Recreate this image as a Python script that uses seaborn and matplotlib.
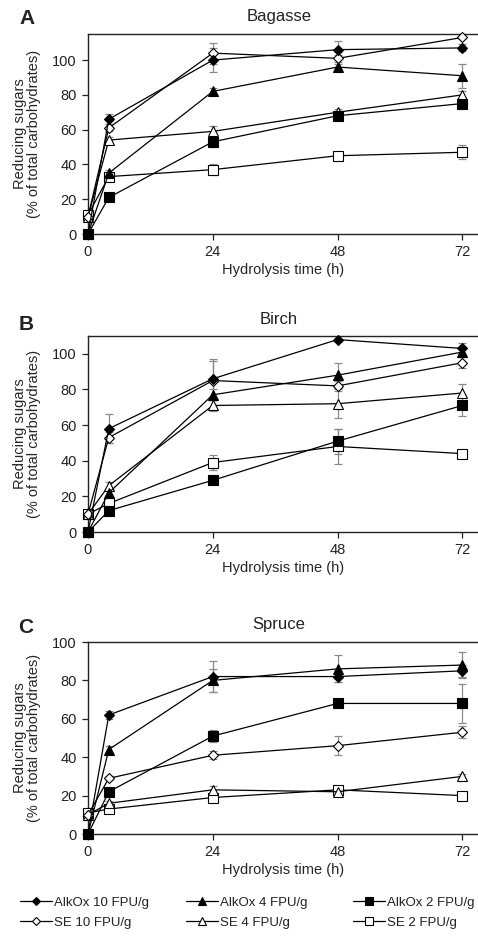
import numpy as np
import pandas as pd
import matplotlib
matplotlib.use("Agg")
import matplotlib.pyplot as plt
from matplotlib.lines import Line2D
import seaborn as sns

# Sampling times (h)
hours = [0, 4, 24, 48, 72]
tick_hours = [0, 24, 48, 72]

series_names = ["AlkOx 10 FPU/g", "AlkOx 4 FPU/g", "AlkOx 2 FPU/g",
                "SE 10 FPU/g", "SE 4 FPU/g", "SE 2 FPU/g"]

# Reducing sugars (% of total carbohydrates), one list per substrate and series
bagasse_alkox10 = [0, 66, 100, 106, 107]
bagasse_alkox4 = [0, 35, 82, 96, 91]
bagasse_alkox2 = [0, 21, 53, 68, 75]
bagasse_se10 = [10, 61, 104, 101, 113]
bagasse_se4 = [10, 54, 59, 70, 80]
bagasse_se2 = [11, 33, 37, 45, 47]

bagasse_alkox10_err = [0, 3, 7, 5, 2]
bagasse_alkox4_err = [0, 2, 2, 2, 7]
bagasse_alkox2_err = [0, 1, 3, 2, 2]
bagasse_se10_err = [0, 2, 6, 2, 1]
bagasse_se4_err = [0, 2, 3, 2, 2]
bagasse_se2_err = [0, 2, 3, 2, 4]

birch_alkox10 = [0, 58, 86, 108, 103]
birch_alkox4 = [0, 22, 77, 88, 101]
birch_alkox2 = [0, 12, 29, 51, 71]
birch_se10 = [10, 53, 85, 82, 95]
birch_se4 = [10, 26, 71, 72, 78]
birch_se2 = [10, 16, 39, 48, 44]

birch_alkox10_err = [0, 8, 11, 1, 3]
birch_alkox4_err = [0, 2, 3, 7, 3]
birch_alkox2_err = [0, 1, 2, 7, 6]
birch_se10_err = [0, 3, 11, 3, 3]
birch_se4_err = [0, 2, 3, 8, 5]
birch_se2_err = [0, 2, 4, 10, 1]

spruce_alkox10 = [0, 62, 82, 82, 85]
spruce_alkox4 = [0, 44, 80, 86, 88]
spruce_alkox2 = [0, 22, 51, 68, 68]
spruce_se10 = [10, 29, 41, 46, 53]
spruce_se4 = [10, 16, 23, 22, 30]
spruce_se2 = [11, 13, 19, 23, 20]

spruce_alkox10_err = [0, 2, 8, 3, 3]
spruce_alkox4_err = [0, 2, 6, 7, 7]
spruce_alkox2_err = [0, 2, 3, 1, 10]
spruce_se10_err = [0, 1, 2, 5, 3]
spruce_se4_err = [0, 1, 2, 1, 1]
spruce_se2_err = [0, 1, 1, 1, 1]

panels = [
    ("A", "Bagasse", 115,
     [bagasse_alkox10, bagasse_alkox4, bagasse_alkox2, bagasse_se10, bagasse_se4, bagasse_se2],
     [bagasse_alkox10_err, bagasse_alkox4_err, bagasse_alkox2_err,
      bagasse_se10_err, bagasse_se4_err, bagasse_se2_err]),
    ("B", "Birch", 110,
     [birch_alkox10, birch_alkox4, birch_alkox2, birch_se10, birch_se4, birch_se2],
     [birch_alkox10_err, birch_alkox4_err, birch_alkox2_err,
      birch_se10_err, birch_se4_err, birch_se2_err]),
    ("C", "Spruce", 100,
     [spruce_alkox10, spruce_alkox4, spruce_alkox2, spruce_se10, spruce_se4, spruce_se2],
     [spruce_alkox10_err, spruce_alkox4_err, spruce_alkox2_err,
      spruce_se10_err, spruce_se4_err, spruce_se2_err]),
]

# marker shape, face colour, marker size per series
styles = [
    ("D", "black", 5.4),
    ("^", "black", 7.5),
    ("s", "black", 7.3),
    ("D", "white", 5.4),
    ("^", "white", 7.5),
    ("s", "white", 7.3),
]
# drawing order (front-most last)
draw_order = [5, 4, 2, 1, 3, 0]

sns.set_theme(style="ticks")
plt.rcParams["font.family"] = ["Liberation Sans", "DejaVu Sans"]
plt.rcParams["axes.edgecolor"] = "#222222"
plt.rcParams["xtick.color"] = "#222222"
plt.rcParams["ytick.color"] = "#222222"
plt.rcParams["text.color"] = "#222222"

W, H = 478, 938
fig = plt.figure(figsize=(W / 100, H / 100), dpi=100)

# axes boxes in pixels: (left, top, right, bottom)
boxes = [(88, 34, 478, 234), (88, 336, 478, 532), (88, 642, 478, 834)]
letter_pos = [(19, 18), (19, 324), (18, 627)]

for (letter, title, ymax, values, errors), box, lp in zip(panels, boxes, letter_pos):
    l, t, r, b = box
    ax = fig.add_axes([l / W, 1 - b / H, (r - l) / W, (b - t) / H])
    for i in draw_order:
        marker, face, ms = styles[i]
        ax.errorbar(hours, values[i], yerr=errors[i], fmt="none",
                    ecolor="#8a8a8a", elinewidth=0.9, capsize=3,
                    capthick=0.9, zorder=2, clip_on=False)
        df = pd.DataFrame({"time": hours, "sugar": values[i]})
        sns.lineplot(data=df, x="time", y="sugar", ax=ax, color="black",
                     linewidth=0.9, marker=marker, markersize=ms,
                     markerfacecolor=face, markeredgecolor="black",
                     markeredgewidth=0.8, clip_on=False, zorder=3 + draw_order.index(i))
    ax.set_xlim(0, 75)
    ax.set_ylim(0, ymax)
    ax.set_xticks(tick_hours)
    ax.set_yticks([0, 20, 40, 60, 80, 100])
    ax.tick_params(labelsize=10.5, length=4, width=0.9, pad=4)
    for s in ("left", "bottom", "top"):
        ax.spines[s].set_linewidth(1.0)
    ax.spines["right"].set_visible(False)
    ax.set_xlabel("Hydrolysis time (h)", fontsize=10.5, labelpad=3)
    ax.set_ylabel("Reducing sugars\n(% of total carbohydrates)", fontsize=10.5,
                  labelpad=8, linespacing=1.0)
    ax.set_title(title, fontsize=12, pad=9, x=(279 - l) / (r - l))
    fig.text(lp[0] / W, 1 - lp[1] / H, letter, fontsize=15, fontweight="bold",
             va="center", ha="left")

# legend under the last panel: three fixed-position columns
column_x = [20, 186, 353]
column_series = [[0, 3], [1, 4], [2, 5]]
for cx, idxs in zip(column_x, column_series):
    handles = []
    for i in idxs:
        marker, face, ms = styles[i]
        handles.append(Line2D([0], [0], color="black", linewidth=0.9, marker=marker,
                              markersize=ms * 0.8, markerfacecolor=face,
                              markeredgecolor="black", markeredgewidth=0.8,
                              label=series_names[i]))
    fig.legend(handles=handles, loc="center left",
               bbox_to_anchor=(cx / W, 1 - 912.5 / H), ncol=1, frameon=False,
               fontsize=9.5, handlelength=2.4, handletextpad=0.15,
               labelspacing=0.6, borderpad=0, borderaxespad=0)

fig.savefig("out.png", dpi=100)
